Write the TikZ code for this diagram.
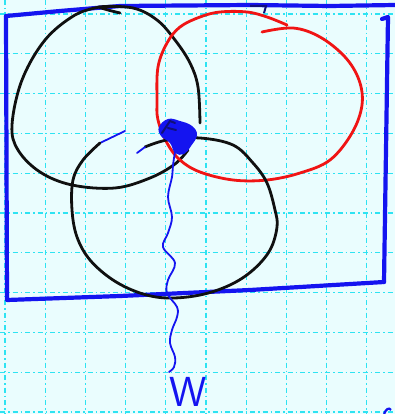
\documentclass[tikz,border=0pt]{standalone}
\usetikzlibrary{calc}
\definecolor{paper}{HTML}{EAFDFE}
\definecolor{gridc}{HTML}{2EE3F2}
\definecolor{penblue}{HTML}{1414F0}
\definecolor{navy}{HTML}{10107A}
\definecolor{penred}{HTML}{F01414}
\definecolor{penblack}{HTML}{101010}
\tikzset{
  gridline/.style={gridc, line width=1.1pt, dash pattern=on 5pt off 3pt on 1.5pt off 3pt},
  frame/.style={penblue, line width=4.2pt, line cap=round, line join=round},
  blackpen/.style={penblack, line width=2.8pt, line cap=round},
  redpen/.style={penred, line width=2.8pt, line cap=round},
  thinblue/.style={penblue, line width=1.8pt, line cap=round},
}
\begin{document}
\begin{tikzpicture}[x=1pt,y=-1pt]
\fill[paper] (0,0) rectangle (395,414);
\useasboundingbox (0,0) rectangle (395,414);
% grid
\foreach \k in {0,...,9} {
  \draw[gridline] ({5+40.2*\k},0) -- ({5+40.2*\k},414);
}
\foreach \k in {0,...,10} {
  \draw[gridline] (0,{14+39.8*\k}) -- (395,{14+39.8*\k});
}
% frame
\coordinate (tl) at (6,16);
\coordinate (bl) at (7,300);
\coordinate (br) at (384,282);
\coordinate (tr) at (388,17);
\draw[frame] (tl) -- (7,300) -- (120,296) -- (250,290) -- (br);
\draw[frame] (tl) -- (60,11) -- (120,6) -- (250,5) -- (330,6) -- (395,5);
\draw[frame] (382,19) -- (tr) -- (386,150) -- (br);
\draw[navy, line width=2pt] (250,6) -- (266,6) -- (264,13);
% circle 1 (top-left, black)
\draw[blackpen] plot[smooth, tension=0.6] coordinates {
  (120,13) (100,7) (133,8) (157,20) (175,40) (190,63) (198,87) (200,123)};
\draw[blackpen] plot[smooth, tension=0.6] coordinates {
  (100,7) (75,15) (45,40) (22,80) (12,125) (18,150) (40,172) (72,185)
  (115,188) (150,178) (175,164) (188,150)};
% red circle
\draw[redpen] plot[smooth, tension=0.6] coordinates {
  (287,25) (267,17) (247,12) (220,12) (200,17) (180,27) (167,43) (158,67)
  (157,100) (158,120) (167,143) (180,160) (200,172) (233,180) (267,180)
  (300,173) (330,160) (352,133) (362,105) (359,80) (345,57) (320,37)
  (293,28) (262,32)};
% circle 3 (bottom, black)
\draw[thinblue] (125,131) -- (100,143);
\draw[blackpen] plot[smooth, tension=0.6] coordinates {
  (100,143) (83,160) (73,180) (72,210) (77,237) (90,260) (113,280) (140,293)
  (167,298) (200,295) (230,285) (253,270) (270,250) (277,227) (275,210)
  (267,183) (253,163) (233,145) (200,138) (167,140) (145,147)};
\draw[thinblue] (145,147) -- (137,153);
% blob
\fill[penblue] plot[smooth cycle, tension=0.7] coordinates {
  (168,119) (180,121) (192,126) (197,135) (191,146) (184,154) (175,153)
  (170,143) (161,136) (159,127)};
\draw[navy, line width=2pt, line cap=round] (162,133) -- (170,121) -- (175,123) (168,128) -- (176,130);
% wavy line
\draw[thinblue] plot[smooth, tension=0.6] coordinates {
  (175,152) (173,165) (172,177) (168,197) (172,217) (168,233) (163,247)
  (175,263) (168,280) (167,293) (177,307) (177,317) (172,330) (170,343)
  (175,357) (174,367) (169,372)};
% label
\node[penblue, font=\fontsize{42}{42}\selectfont\sffamily, inner sep=0pt] (w) at (188,392) {W};
% bottom-right mark
\draw[penblue, line width=2.2pt] (384,414) .. controls (386,409) and (389,407) .. (391,410);
\end{tikzpicture}
\end{document}
